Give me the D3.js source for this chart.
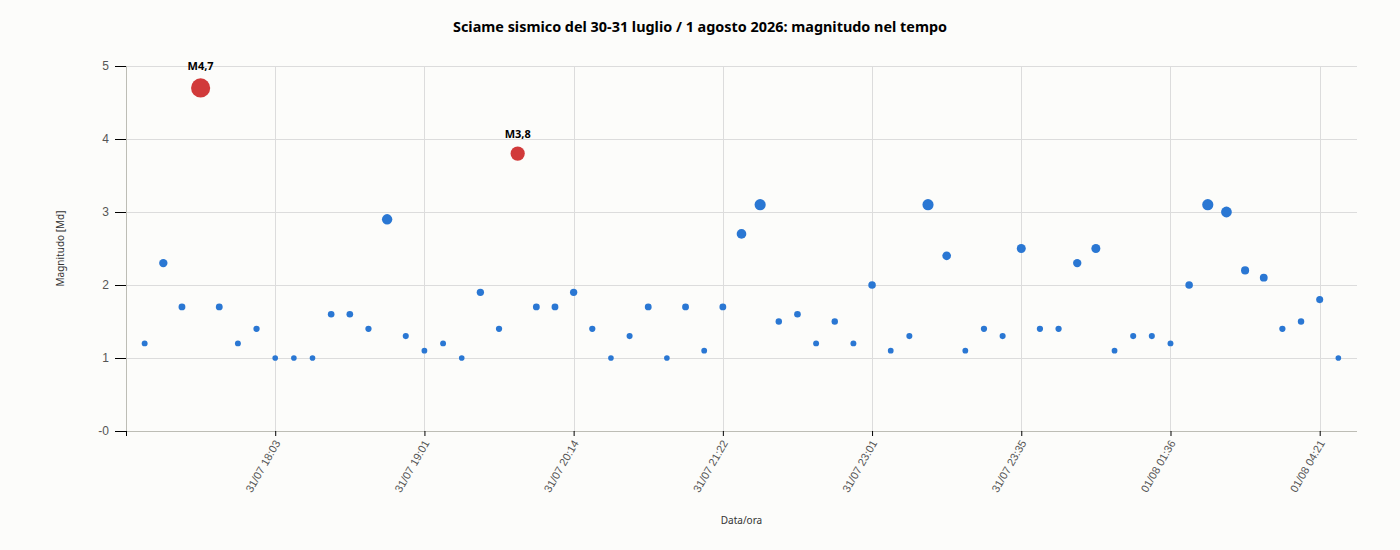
<!DOCTYPE html>
<html lang="it">
<meta charset="UTF-8">
<title>Sciame sismico</title>
<style>
  body { margin: 0; background: #fcfcfa; }
  svg { display: block; font-family: "Noto Sans", "Open Sans", sans-serif; }
  .grid line { stroke: #dcdcdc; stroke-width: 1; }
  .axis .domain { stroke: #bdbdb5; }
  .axis .tick line { stroke: #000; }
  .axis .tick text { fill: #555; }
</style>
<script src="https://d3js.org/d3.v7.min.js"></script>
<body>
<svg id="chart" width="1400" height="550"></svg>
<script>
// magnitudo (Md) of each event, in time order
var magnitudes = [
  1.2, 2.3, 1.7, 4.7, 1.7, 1.2, 1.4, 1.0, 1.0, 1.0,
  1.6, 1.6, 1.4, 2.9, 1.3, 1.1, 1.2, 1.0, 1.9, 1.4,
  3.8, 1.7, 1.7, 1.9, 1.4, 1.0, 1.3, 1.7, 1.0, 1.7,
  1.1, 1.7, 2.7, 3.1, 1.5, 1.6, 1.2, 1.5, 1.2, 2.0,
  1.1, 1.3, 3.1, 2.4, 1.1, 1.4, 1.3, 2.5, 1.4, 1.4,
  2.3, 2.5, 1.1, 1.3, 1.3, 1.2, 2.0, 3.1, 3.0, 2.2,
  2.1, 1.4, 1.5, 1.8, 1.0
];
// events shown on the x axis and their labels
var tickIndex = [7, 15, 23, 31, 39, 47, 55, 63];
var tickLabels = ["31/07 18:03", "31/07 19:01", "31/07 20:14", "31/07 21:22",
                  "31/07 23:01", "31/07 23:35", "01/08 01:36", "01/08 04:21"];
var yTicks = [0, 1, 2, 3, 4, 5];
var highlight = 3.5; // events above this get a red mark and label

var svg = d3.select("#chart");
var margin = {top: 66, right: 43, bottom: 119, left: 126};
var W = 1400 - margin.left - margin.right;
var H = 550 - margin.top - margin.bottom;

var x = d3.scalePoint()
  .domain(d3.range(magnitudes.length))
  .range([0, W])
  .padding(1);
var y = d3.scaleLinear().domain([0, 5]).range([H, 0]);
var r = d3.scalePow().exponent(2).domain([0, 5]).range([2.5, 10.5]);

svg.append("text")
  .attr("x", 700).attr("y", 32)
  .attr("text-anchor", "middle")
  .style("font-size", "14.4px").style("font-weight", "bold")
  .text("Sciame sismico del 30-31 luglio / 1 agosto 2026: magnitudo nel tempo");

var g = svg.append("g").attr("transform", "translate(" + margin.left + "," + margin.top + ")");

// grid
var grid = g.append("g").attr("class", "grid");
grid.selectAll("line.h").data(yTicks.slice(1)).enter().append("line")
  .attr("x1", 0).attr("x2", W)
  .attr("y1", function(d) { return y(d) + 0.5; })
  .attr("y2", function(d) { return y(d) + 0.5; });
grid.selectAll("line.v").data(tickIndex).enter().append("line")
  .attr("y1", 0).attr("y2", H)
  .attr("x1", function(d) { return Math.round(x(d)) + 0.5; })
  .attr("x2", function(d) { return Math.round(x(d)) + 0.5; });

// axes
var yAxis = g.append("g").attr("class", "axis")
  .call(d3.axisLeft(y).tickValues(yTicks).tickSize(11).tickSizeOuter(0).tickPadding(6)
    .tickFormat(function(d) { return d === 0 ? "-0" : d; }));
yAxis.selectAll(".tick text").style("font-size", "12px");
yAxis.select(".domain").attr("d", "M0.5,0V" + H);

var xAxis = g.append("g").attr("class", "axis")
  .attr("transform", "translate(0," + H + ")")
  .call(d3.axisBottom(x).tickValues(tickIndex).tickSize(5).tickSizeOuter(0)
    .tickFormat(function(d) { return tickLabels[tickIndex.indexOf(d)]; }));
xAxis.select(".domain").attr("d", "M0,0.5H" + W);
xAxis.append("line").attr("x1", 0.5).attr("x2", 0.5).attr("y1", 0).attr("y2", 5).attr("stroke", "#000");
xAxis.selectAll(".tick text")
  .style("font-size", "11px")
  .attr("text-anchor", "end")
  .attr("dx", 0).attr("dy", 0).attr("y", 0)
  .attr("transform", "translate(5,12) rotate(-60)");

// axis titles
svg.append("text")
  .attr("transform", "translate(64," + (margin.top + H / 2) + ") rotate(-90)")
  .attr("text-anchor", "middle")
  .style("font-size", "10px").attr("fill", "#333")
  .text("Magnitudo [Md]");
svg.append("text")
  .attr("x", margin.left + W / 2).attr("y", 524)
  .attr("text-anchor", "middle")
  .style("font-size", "10px").attr("fill", "#333")
  .text("Data/ora");

// points
g.selectAll("circle").data(magnitudes).enter().append("circle")
  .attr("cx", function(d, i) { return x(i); })
  .attr("cy", function(d) { return y(d); })
  .attr("r", function(d) { return r(d); })
  .attr("fill", function(d) { return d > highlight ? "#d13a3a" : "#2a77d3"; });

g.selectAll("text.lab").data(magnitudes.map(function(d, i) { return {m: d, i: i}; })
    .filter(function(d) { return d.m > highlight; }))
  .enter().append("text")
  .attr("class", "lab")
  .attr("x", function(d) { return x(d.i); })
  .attr("y", function(d) { return y(d.m) - r(d.m) - 8; })
  .attr("text-anchor", "middle")
  .style("font-size", "11px").style("font-weight", "bold")
  .text(function(d) { return "M" + String(d.m).replace(".", ","); });
</script>
</body>
</html>
